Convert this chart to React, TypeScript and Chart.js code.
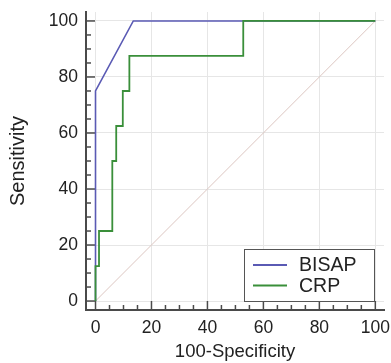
import React, { useEffect, useRef } from "react";
import { Chart, registerables } from "chart.js";

Chart.register(...registerables);

// ROC data: x = 100-Specificity, y = Sensitivity (corner points of the curves)
const bisapX = [0, 0, 13.5, 100];
const bisapY = [0, 75, 100, 100];

const crpX = [0, 0, 1.25, 1.25, 6.0, 6.0, 7.4, 7.4, 9.75, 9.75, 12.1, 12.1, 52.8, 52.8, 100];
const crpY = [0, 12.5, 12.5, 25, 25, 50, 50, 62.5, 62.5, 75, 75, 87.5, 87.5, 100, 100];

const refX = [0, 100];
const refY = [0, 100];

const seriesLabels = ["BISAP", "CRP"];
const majorTicks = [0, 20, 40, 60, 80, 100];
const minorStep = 5;

const FONT = "'Liberation Sans', Arial, sans-serif";
const TEXT = "#222222";
const AXIS = "#4a4a4a";

const toPts = (xs: number[], ys: number[]) => xs.map((x, i) => ({ x, y: ys[i] }));

const minorTickPlugin = {
  id: "minorTicks",
  beforeDatasetsDraw(chart: any) {
    const { ctx, chartArea, scales } = chart;
    ctx.save();
    ctx.strokeStyle = AXIS;
    ctx.lineWidth = 1.5;
    for (let v = 0; v <= 100; v += minorStep) {
      const major = v % 20 === 0;
      const len = major ? 9 : 5;
      const px = scales.x.getPixelForValue(v);
      ctx.beginPath();
      ctx.moveTo(px, chartArea.bottom);
      ctx.lineTo(px, chartArea.bottom - len);
      ctx.stroke();
      const py = scales.y.getPixelForValue(v);
      ctx.beginPath();
      ctx.moveTo(chartArea.left, py);
      ctx.lineTo(chartArea.left + len, py);
      ctx.stroke();
    }
    ctx.restore();
  },
};

const legendPlugin = {
  id: "boxLegend",
  afterDraw(chart: any) {
    const { ctx, chartArea } = chart;
    const items = chart.data.datasets.filter((d: any) => d.label);
    const w = 130;
    const h = 52;
    const x1 = chartArea.right - 10 - w;
    const y1 = chartArea.bottom - 9 - h;
    ctx.save();
    ctx.fillStyle = "#ffffff";
    ctx.fillRect(x1, y1, w, h);
    ctx.strokeStyle = "#555555";
    ctx.lineWidth = 1;
    ctx.strokeRect(x1 + 0.5, y1 + 0.5, w, h);
    ctx.font = `19.5px ${FONT}`;
    ctx.textBaseline = "middle";
    ctx.textAlign = "left";
    items.forEach((d: any, i: number) => {
      const cy = y1 + 16 + i * 20.5;
      ctx.strokeStyle = d.borderColor;
      ctx.lineWidth = 2;
      ctx.beginPath();
      ctx.moveTo(x1 + 9, cy);
      ctx.lineTo(x1 + 43, cy);
      ctx.stroke();
      ctx.fillStyle = TEXT;
      ctx.fillText(d.label, x1 + 55, cy + 1);
    });
    ctx.restore();
  },
};

export default function App() {
  const ref = useRef<HTMLCanvasElement>(null);

  useEffect(() => {
    if (!ref.current) return;
    const setTicks = (scale: any) => {
      scale.ticks = majorTicks.map((v) => ({ value: v }));
    };
    const chart = new Chart(ref.current, {
      type: "scatter",
      data: {
        datasets: [
          {
            label: seriesLabels[0],
            data: toPts(bisapX, bisapY),
            showLine: true,
            borderColor: "#5a5ab4",
            borderWidth: 1.6,
            pointRadius: 0,
            order: 2,
          },
          {
            label: seriesLabels[1],
            data: toPts(crpX, crpY),
            showLine: true,
            borderColor: "#3a8f3a",
            borderWidth: 1.8,
            pointRadius: 0,
            order: 1,
          },
          {
            label: "",
            data: toPts(refX, refY),
            showLine: true,
            borderColor: "#dcc6c1",
            borderWidth: 1,
            pointRadius: 0,
            order: 3,
          },
        ],
      },
      options: {
        responsive: false,
        animation: false,
        layout: { padding: { top: 12, right: 7, left: 0, bottom: 0 } },
        plugins: { legend: { display: false }, tooltip: { enabled: false } },
        scales: {
          x: {
            type: "linear",
            min: -3.4,
            max: 103.1,
            afterBuildTicks: setTicks,
            afterFit: (s: any) => {
              s.height = 53;
              s.paddingLeft = 0;
              s.paddingRight = 0;
            },
            grid: { color: "#e6e6e6", lineWidth: 1, drawTicks: false },
            border: { display: true, color: AXIS, width: 2 },
            ticks: { padding: 8, color: TEXT, font: { family: FONT, size: 17.5 } },
            title: {
              display: true,
              text: "100-Specificity",
              color: TEXT,
              padding: 0,
              font: { family: FONT, size: 18.5 },
            },
          },
          y: {
            type: "linear",
            min: -3.2,
            max: 103.2,
            afterBuildTicks: setTicks,
            afterFit: (s: any) => {
              s.width = 86;
              s.paddingTop = 0;
              s.paddingBottom = 0;
            },
            grid: { color: "#e6e6e6", lineWidth: 1, drawTicks: false },
            border: { display: true, color: AXIS, width: 2 },
            ticks: { padding: 8, color: TEXT, font: { family: FONT, size: 17.5 } },
            title: {
              display: true,
              text: "Sensitivity",
              color: TEXT,
              padding: { top: 6, bottom: 0 },
              font: { family: FONT, size: 20 },
            },
          },
        },
      },
      plugins: [minorTickPlugin, legendPlugin],
    } as any);
    return () => chart.destroy();
  }, []);

  return (
    <div style={{ position: "absolute", left: 0, top: 0, width: 391, height: 363, background: "#fff" }}>
      <canvas ref={ref} width={391} height={363} />
    </div>
  );
}
